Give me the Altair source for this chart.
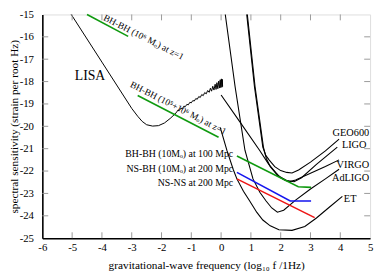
import altair as alt
import pandas as pd

# ---------------- data (log10 f, log10 h) ----------------
lisa_x = [-5.03, -4.0, -3.0, -2.8, -2.65, -2.5, -2.3, -2.1, -1.9, -1.71, -1.55, -1.49,
          -1.45, -1.40, -1.35, -1.30, -1.25, -1.20, -1.15, -1.10, -1.05, -1.00,
          -0.95, -0.90, -0.85, -0.80, -0.75, -0.70, -0.65, -0.60, -0.55, -0.50,
          -0.45, -0.40, -0.36, -0.32, -0.28, -0.24, -0.20, -0.17, -0.14, -0.11,
          -0.08, -0.05, -0.03, -0.01, 0.01, 0.03, 0.04, 0.05]
lisa_y = [-15.0, -17.13, -19.2, -19.55, -19.78, -19.93, -19.99, -19.97, -19.85, -19.65, -19.45, -19.36,
          -19.28, -19.29, -19.19, -19.21, -19.10, -19.12, -19.02, -19.04, -18.93, -18.95,
          -18.85, -18.87, -18.76, -18.79, -18.67, -18.71, -18.58, -18.63, -18.49, -18.55,
          -18.40, -18.48, -18.30, -18.43, -18.21, -18.38, -18.12, -18.35, -18.05, -18.32,
          -17.98, -18.29, -17.92, -18.27, -17.88, -18.25, -17.90, -18.22]

geo_x = [0.86, 1.12, 1.40, 1.50, 1.61, 1.8, 2.0, 2.2, 2.38, 2.6, 3.0, 3.5, 3.96]
geo_y = [-15.0, -18.23, -20.93, -21.3, -21.5, -21.8, -21.98, -22.06, -22.09, -21.95, -21.6, -21.1, -20.57]
ligo_x = [0.88, 1.14, 1.42, 1.52, 1.65, 1.9, 2.2, 2.45, 2.7, 3.2, 3.9]
ligo_y = [-15.0, -18.23, -20.93, -21.45, -21.8, -22.2, -22.42, -22.48, -22.3, -21.7, -20.93]
virgo_x = [0.0, 0.63, 1.29, 1.6, 1.83, 2.0, 2.16, 2.3, 2.5, 3.0, 3.5, 3.96]
virgo_y = [-18.6, -19.8, -21.07, -21.7, -22.06, -22.3, -22.42, -22.47, -22.4, -22.1, -21.8, -21.5]
adligo_x = [0.14, 0.47, 0.80, 1.07, 1.3, 1.51, 1.7, 1.89, 2.1, 2.5, 3.0, 3.5, 3.96]
adligo_y = [-15.0, -18.23, -21.07, -22.35, -22.95, -23.34, -23.65, -23.84, -23.75, -23.3, -22.8, -22.35, -21.92]
et_x = [-0.03, 0.2, 0.41, 0.53, 0.75, 0.96, 1.2, 1.40, 1.65, 1.94, 2.38, 2.81, 3.2, 3.6, 4.07]
et_y = [-20.05, -21.1, -21.94, -22.35, -22.9, -23.34, -23.85, -24.19, -24.45, -24.62, -24.65, -24.48, -24.1, -23.65, -23.13]

bh1_x = [-4.50, -3.12]
bh1_y = [-15.0, -15.98]
bh2_x = [-2.80, -0.085]
bh2_y = [-18.62, -20.49]
bhbh_x = [0.53, 2.59, 3.02]
bhbh_y = [-21.33, -22.70, -22.73]
nsbh_x = [0.53, 2.32, 3.02]
nsbh_y = [-22.06, -23.34, -23.34]
nsns_x = [0.53, 3.14]
nsns_y = [-22.35, -24.08]

# right-aligned detector labels
det_text = ["GEO600", "LIGO", "VIRGO", "AdLIGO"]
det_x = [4.97, 4.88, 4.97, 4.97]
det_y = [-20.28, -20.83, -21.72, -22.32]
et_text = ["ET"]
et_lx = [4.12]
et_ly = [-23.26]

lisa_text = ["LISA"]
lisa_lx = [-4.4]
lisa_ly = [-17.77]

src_text = ["BH-BH (10Mₒ) at 100 Mpc", "NS-BH (10Mₒ) at 200 Mpc", "NS-NS at 200 Mpc"]
src_x = [0.405, 0.405, 0.405]
src_y = [-21.26, -21.89, -22.53]

rot_text = ["BH-BH (10⁶ Mₒ) at z=1", "BH-BH (10⁵+10⁶ Mₒ) at z=1"]
rot_x = [-2.60, -1.44]
rot_y = [-16.02, -19.18]

xticks = [-5, -4, -3, -2, -1, 0, 1, 2, 3, 4]
yticks = [-24, -23, -22, -21, -20, -19, -18, -17, -16]
x_title = "gravitational-wave frequency (log₁₀ f /1Hz)"
y_title = "spectral sensitivity (strain per root Hz)"

# ---------------- build ----------------
rows = []
def add(name, xs, ys, color, w):
    for i, (a, b) in enumerate(zip(xs, ys)):
        rows.append({"series": name, "x": a, "y": b, "i": i, "color": color, "w": w})

GREEN, BLUE, RED = "#0f9a0f", "#1515ee", "#ee1515"
add("LISA", lisa_x, lisa_y, "black", 1.0)
add("GEO600", geo_x, geo_y, "black", 1.1)
add("LIGO", ligo_x, ligo_y, "black", 1.1)
add("VIRGO", virgo_x, virgo_y, "black", 1.1)
add("AdLIGO", adligo_x, adligo_y, "black", 1.1)
add("ET", et_x, et_y, "black", 1.1)
add("bh1", bh1_x, bh1_y, GREEN, 1.6)
add("bh2", bh2_x, bh2_y, GREEN, 1.6)
add("bhbh", bhbh_x, bhbh_y, GREEN, 1.6)
add("nsbh", nsbh_x, nsbh_y, BLUE, 1.6)
add("nsns", nsns_x, nsns_y, RED, 1.6)
df = pd.DataFrame(rows)

dets = pd.DataFrame({"t": det_text, "x": det_x, "y": det_y})
etl = pd.DataFrame({"t": et_text, "x": et_lx, "y": et_ly})
lisal = pd.DataFrame({"t": lisa_text, "x": lisa_lx, "y": lisa_ly})
srcs = pd.DataFrame({"t": src_text, "x": src_x, "y": src_y})
rots = pd.DataFrame({"t": rot_text, "x": rot_x, "y": rot_y})

W, H = 334, 228
FONT = "Liberation Serif"
xs = alt.Scale(domain=[-6, 5], nice=False, zero=False)
ys = alt.Scale(domain=[-25, -15], nice=False, zero=False)

xax = alt.Axis(values=list(range(-6, 6)), ticks=False, tickSize=0, domainColor="black",
               domainWidth=1.6, labelFont=FONT, labelFontSize=11, labelColor="black",
               labelPadding=4, labelOverlap=False, labelFlush=False,
               labelExpr="toString(datum.value)", grid=False,
               titleFont=FONT, titleFontSize=11.5,
               titleFontWeight="normal", titleColor="black",
               titleY=31, titleBaseline="alphabetic")
yax = alt.Axis(values=list(range(-25, -14)), ticks=False, tickSize=0, domainColor="black",
               domainWidth=1.6, labelFont=FONT, labelFontSize=11, labelColor="black",
               labelPadding=9, labelOverlap=False, labelFlush=False,
               labelExpr="toString(datum.value)", grid=False,
               titleFont=FONT, titleFontSize=11.5,
               titleFontWeight="normal", titleColor="black",
               titleX=-28.5, titleY=H / 2, titleAngle=270, titleAlign="center",
               titleBaseline="middle")

XN = lambda f: alt.X(f, scale=xs, axis=xax, title=x_title)
YN = lambda f: alt.Y(f, scale=ys, axis=yax, title=y_title)

lines = alt.Chart(df).mark_line().encode(
    x=XN("x:Q"), y=YN("y:Q"),
    detail="series:N",
    order="i:Q",
    color=alt.Color("color:N", scale=None),
    strokeWidth=alt.StrokeWidth("w:Q", scale=None),
)

det_labels = alt.Chart(dets).mark_text(font=FONT, fontSize=10.5, align="right", baseline="middle").encode(
    x=XN("x:Q"), y=YN("y:Q"), text="t:N")
et_label = alt.Chart(etl).mark_text(font=FONT, fontSize=10.5, align="left", baseline="middle").encode(
    x=XN("x:Q"), y=YN("y:Q"), text="t:N")
lisa_label = alt.Chart(lisal).mark_text(font=FONT, fontSize=14, align="center", baseline="middle").encode(
    x=XN("x:Q"), y=YN("y:Q"), text="t:N")
srclabels = alt.Chart(srcs).mark_text(font=FONT, fontSize=10, align="right", baseline="middle").encode(
    x=XN("x:Q"), y=YN("y:Q"), text="t:N")
rotlabels = alt.Chart(rots).mark_text(font=FONT, fontSize=9.5, align="center", baseline="middle",
                                      angle=27).encode(
    x=XN("x:Q"), y=YN("y:Q"), text="t:N")

xt = pd.DataFrame({"v": xticks})
yt = pd.DataFrame({"v": yticks})
TC = "#9a9a9a"
tick_b = alt.Chart(xt).mark_rule(color=TC).encode(
    x=XN("v:Q"), y=alt.value(H), y2=alt.value(H - 6))
tick_t = alt.Chart(xt).mark_rule(color=TC).encode(
    x=XN("v:Q"), y=alt.value(0), y2=alt.value(6))
tick_l = alt.Chart(yt).mark_rule(color=TC).encode(
    y=YN("v:Q"), x=alt.value(0), x2=alt.value(6))
tick_r = alt.Chart(yt).mark_rule(color=TC).encode(
    y=YN("v:Q"), x=alt.value(W), x2=alt.value(W - 6))

chart = alt.layer(lines, det_labels, et_label, lisa_label, srclabels, rotlabels,
                  tick_b, tick_t, tick_l, tick_r).properties(
    width=W, height=H,
    autosize=alt.AutoSizeParams(type="none"),
    padding={"left": 35, "top": 4, "right": 4, "bottom": 37},
).configure_view(stroke="#666", strokeWidth=1).configure(background="white")

chart.save("out.html", embed_options={"renderer": "svg", "actions": False})
